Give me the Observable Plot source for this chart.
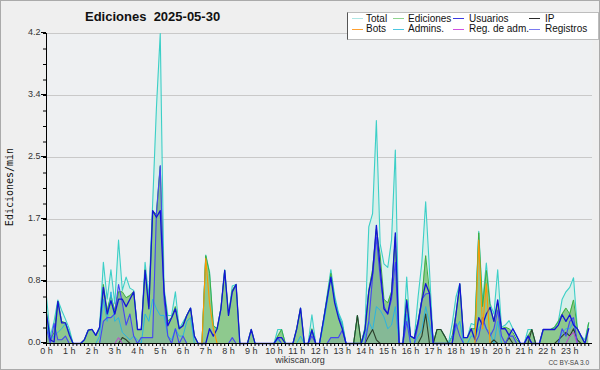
<!DOCTYPE html>
<html><head><meta charset="utf-8">
<script src="https://cdn.jsdelivr.net/npm/d3@7"></script>
<script src="https://cdn.jsdelivr.net/npm/@observablehq/plot@0.6"></script>
<style>
body{margin:0;background:#fff}
#c{position:relative;width:600px;height:370px;background:#efefef;overflow:hidden;font-family:"Liberation Sans",Arial,sans-serif}
#c svg{position:absolute;left:0;top:0}
.t{position:absolute;white-space:pre;}
</style></head><body><div id="c"></div><script>
// 10-minute slots (144 per day), values in edits/min
const total = [
 0.63,0.10,0.30,0.59,0.45,0.33, 0.20,0,0,0,0.05,0.18, 0.19,0.11,0.22,1.10,0.60,1.00,
 0.54,1.40,0.72,0.90,0.75,0.72, 0.19,0.19,1.10,0.63,1.90,3.20, 4.20,0.75,0.38,0.38,0.70,0.20,
 0.29,0.38,0.48,0.10,0,0, 1.20,0.97,0.24,0.20,0.47,1.00, 0.38,0.78,0.80,0,0,0,
 0.19,0,0,0,0,0, 0,0.19,0.19,0,0,0, 0.20,0.48,0,0,0.39,0,
 0,0.30,0.65,1.00,0.65,0.42, 0.30,0,0,0,0.38,0, 0.22,1.58,1.76,3.02,1.35,1.08,
 1.03,1.40,2.62,0,0,0.90, 0.10,0.07,0.63,1.10,1.92,1.00, 0,0.19,0.19,0.10,0,0.27,
 0.63,0.81,0.08,0.08,0.27,0.25, 1.52,0.55,1.09,0.54,0.40,1.00, 0.22,0.25,0.31,0.20,0.10,0,
 0,0.19,0.19,0,0,0.19, 0.19,0.19,0.22,0.30,0.60,0.70, 0.76,0.89,0.20,0.10,0.05,0.28];
const ediciones = [
 0.42,0.05,0.15,0.57,0.30,0.28, 0.15,0,0,0,0.05,0.18, 0.19,0.11,0.20,0.80,0.45,0.65,
 0.45,0.70,0.70,0.62,0.65,0.70, 0.19,0.19,1.00,0.50,1.80,1.75, 2.40,0.70,0.30,0.35,0.50,0.20,
 0.25,0.38,0.48,0.10,0,0, 1.19,0.95,0.24,0.20,0.47,0.99, 0.38,0.72,0.80,0,0,0,
 0.19,0,0,0,0,0, 0,0.10,0.19,0,0,0, 0.20,0.48,0,0,0.20,0,
 0,0.30,0.62,0.95,0.60,0.38, 0.25,0,0,0,0.38,0, 0.20,0.72,1.00,1.55,1.20,0.60,
 0.55,0.70,1.45,0,0,0.60, 0.10,0.07,0.30,0.60,1.19,0.70, 0,0.19,0.19,0.10,0,0.10,
 0.40,0.80,0.08,0.08,0.20,0.20, 1.50,0.50,0.99,0.50,0.30,0.55, 0.20,0.22,0.20,0.15,0.05,0,
 0,0.10,0.19,0,0,0.19, 0.19,0.19,0.22,0.30,0.40,0.48, 0.40,0.59,0.20,0.10,0,0.28];
const usuarios = [
 0.40,0.05,0.02,0.57,0.28,0.28, 0.12,0,0,0,0.05,0.18, 0.19,0.11,0.22,0.76,0.40,0.58,
 0.40,0.60,0.60,0.50,0.60,0.70, 0.19,0.19,0.99,0.47,1.80,1.71, 1.80,0.70,0.24,0.35,0.47,0.20,
 0.24,0.38,0.48,0.10,0,0, 0,0.20,0.10,0.20,0.47,0.99, 0.38,0.70,0.80,0,0,0,
 0.19,0,0,0,0,0, 0,0.08,0.08,0,0,0, 0.20,0.48,0,0,0.18,0,
 0,0.30,0.60,0.90,0.55,0.35, 0.20,0,0,0,0,0, 0.18,0.70,0.95,1.60,1.03,0.47,
 0.40,0.67,1.50,0,0,0.58, 0.10,0.07,0.29,0.58,0.81,0.68, 0,0,0,0,0,0,
 0.40,0.81,0.08,0.08,0.20,0.05, 0.35,0.25,0.40,0.49,0.30,0.59, 0.20,0.20,0.11,0.20,0.10,0,
 0,0.10,0,0,0,0.19, 0.19,0.19,0.19,0.25,0.39,0.30, 0.39,0.25,0.20,0.10,0,0.20];
const ip = [
 0,0,0,0,0,0, 0,0,0,0,0,0, 0,0,0,0,0,0,
 0,0,0.08,0.05,0,0, 0,0,0,0,0,0, 0,0,0,0,0,0,
 0,0,0,0,0,0, 0,0,0,0,0,0, 0,0,0,0,0,0,
 0,0,0,0,0,0, 0,0,0,0,0,0, 0,0,0,0,0,0,
 0,0,0,0,0,0, 0,0,0,0,0.38,0, 0,0.10,0.19,0.05,0,0,
 0,0,0,0,0,0, 0,0,0,0.10,0.40,0, 0,0.19,0.19,0.10,0,0,
 0,0,0,0,0,0, 0,0,0,0,0.05,0, 0,0,0.08,0,0,0,
 0,0,0.19,0,0,0, 0,0,0,0.05,0.10,0.15, 0.10,0.20,0.05,0,0,0];
const bots = [
 0,0,0,0,0,0, 0,0,0,0,0,0, 0,0,0,0,0,0,
 0,0,0,0,0,0, 0,0,0,0,0,0, 0,0,0,0,0,0,
 0,0,0,0,0,0, 1.15,0.55,0.20,0,0,0, 0,0,0,0,0,0,
 0,0,0,0,0,0, 0,0,0,0,0,0, 0,0,0,0,0,0,
 0,0,0,0,0,0, 0,0,0,0,0,0, 0,0,0,0,0,0,
 0,0,0,0,0,0, 0,0,0,0,0,0, 0,0,0,0,0,0,
 0,0,0,0,0,0, 1.40,0.20,0.81,0,0,0, 0,0,0,0,0,0,
 0,0,0,0,0,0, 0,0,0,0,0,0, 0,0,0,0,0,0];
const admins = [
 0.25,0.05,0.10,0.15,0.20,0.27, 0.15,0,0,0,0,0, 0,0,0.10,0.60,0.30,0.70,
 0.30,0.35,0.15,0.10,0.05,0.10, 0.05,0,0.40,0.30,0.60,0.47, 0.38,0.38,0.10,0.05,0.20,0.10,
 0.10,0.30,0.35,0,0,0, 0,0,0,0,0,0, 0,0,0,0,0,0,
 0,0,0,0,0,0, 0,0.05,0,0,0,0, 0,0.10,0,0,0.18,0,
 0,0.25,0.55,0.90,0.60,0.40, 0.25,0,0,0,0,0, 0.10,0.30,0.18,0.50,0.45,0.36,
 0.20,0.25,0.50,0,0,0.40, 0,0,0.10,0.18,0.50,0.27, 0,0,0,0,0,0.10,
 0.20,0.30,0,0,0.10,0.10, 0.20,0.30,0.20,0.15,0,0.30, 0,0,0,0,0,0,
 0,0,0,0,0,0, 0,0,0,0,0.15,0.20, 0.20,0.30,0,0,0,0];
const regAdm = [
 0,0,0,0,0,0, 0,0,0,0,0,0, 0,0,0,0,0,0,
 0,0.08,0,0,0,0, 0,0,0,0,0,0, 0,0,0,0,0,0,
 0,0,0,0,0,0, 0,0,0,0,0,0, 0,0,0,0,0,0,
 0,0,0,0,0,0, 0,0,0,0,0,0, 0,0,0,0,0,0,
 0,0,0,0,0,0, 0,0,0,0,0,0, 0,0,0,0,0,0,
 0,0,0,0,0,0, 0,0,0,0,0,0, 0,0,0,0,0,0,
 0,0,0,0,0,0, 0,0,0,0,0,0, 0,0,0,0,0,0,
 0,0,0,0,0,0, 0,0,0,0,0,0, 0.10,0.15,0,0,0,0];
const registros = [
 0.20,0,0.27,0.05,0.05,0.10, 0,0,0,0,0,0, 0,0,0,0.30,0.35,0.35,
 0.40,0.80,0.55,0.25,0.40,0.10, 0,0.08,0.08,0.08,0.08,1.78, 2.41,0.60,0.10,0,0.20,0,
 0.10,0,0,0,0,0, 0,0,0,0,0,0, 0,0.08,0,0,0,0,
 0,0,0,0,0,0, 0,0.08,0,0,0,0, 0,0,0,0,0.10,0,
 0,0,0,0.08,0.08,0.08, 0.18,0,0,0,0,0, 0,0.30,0.90,1.44,0.90,0.50,
 0.40,0.60,1.10,0,0,0.30, 0,0,0.25,0.60,0.67,0.68, 0,0,0,0,0,0,
 0.27,0.10,0,0,0,0, 0.10,0.35,0.20,0.10,0.20,0.45, 0.10,0,0.10,0.10,0,0,
 0,0.10,0,0,0,0, 0,0,0,0,0.20,0.10, 0.30,0.35,0,0,0,0];

const yTicks = [0, 0.84, 1.68, 2.52, 3.36, 4.2];
const yTickLabels = ["0.0", "0.8", "1.7", "2.5", "3.4", "4.2"];
const hours = [0,1,2,3,4,5,6,7,8,9,10,11,12,13,14,15,16,17,18,19,20,21,22,23];
const hourLabels = ["0 h","1 h","2 h","3 h","4 h","5 h","6 h","7 h","8 h","9 h","10 h","11 h",
  "12 h","13 h","14 h","15 h","16 h","17 h","18 h","19 h","20 h","21 h","22 h","23 h"];
const legendLabels = ["Total","Ediciones","Usuarios","IP","Bots","Admins.","Reg. de adm.","Registros"];
const titleText = "Ediciones  2025-05-30";
const yLabel = "Ediciones/min";

const rows = vals => vals.map((v, j) => ({h: j / 6, v}));
const xMinor = d3.range(144).map(j => j / 6);
const yMinor = d3.range(21).map(k => k * 0.21);

const lineOpts = (stroke, w) => ({x: "h", y: "v", stroke, strokeWidth: w});

const chart = Plot.plot({
  width: 600, height: 370,
  marginLeft: 46, marginRight: 8, marginTop: 33, marginBottom: 27,
  x: {domain: [0, 24], axis: null},
  y: {domain: [0, 4.2], axis: null},
  style: {background: "transparent", fontFamily: "Liberation Sans, Arial, sans-serif", fontSize: "9px", color: "black"},
  marks: [
    Plot.frame({fill: "#eef0f2", stroke: "none"}),
    Plot.ruleY(yTicks.slice(1), {stroke: "#c9c9c9"}),
    Plot.areaY(rows(total), {x: "h", y: "v", fill: "#d7efea"}),
    Plot.areaY(rows(ediciones), {x: "h", y: "v", fill: "#8ec98e"}),
    Plot.areaY(rows(registros), {x: "h", y: "v", fill: "#6a80b8", fillOpacity: 0.22}),
    Plot.lineY(rows(total), lineOpts("#3ccfc7", 1.1)),
    Plot.lineY(rows(ediciones), lineOpts("#3fae3f", 1)),
    Plot.lineY(rows(admins), lineOpts("#2ab4e2", 1)),
    Plot.lineY(rows(ip), lineOpts("#2c402c", 1.1)),
    Plot.lineY(rows(registros), lineOpts("#4646f2", 1.1)),
    Plot.lineY(rows(usuarios), lineOpts("#1414d6", 1.3)),
    Plot.lineY(rows(bots), lineOpts("#ff9800", 1.1)),
    Plot.lineY(rows(regAdm), lineOpts("#c23ed2", 1)),
    Plot.ruleY([0], {stroke: "black"}),
    Plot.ruleX([0], {stroke: "black"}),
    // minor ticks (10 min on x, 0.21 on y)
    Plot.ruleX(xMinor, {x: d => d, y1: 0, y2: 0, insetBottom: -3, stroke: "black"}),
    Plot.ruleY(yMinor, {y: d => d, x1: 0, x2: 0, insetLeft: -3, stroke: "black"}),
    Plot.axisX(hours, {tickSize: 0, tickPadding: 4, fill: "#333", label: null, tickFormat: h => hourLabels[hours.indexOf(h)]}),
    Plot.axisY(yTicks, {tickSize: 5, tickPadding: 1, dy: -1, fill: "#333", label: null, tickFormat: d => yTickLabels[yTicks.indexOf(d)]})
  ]
});

const c = document.getElementById("c");
c.appendChild(chart);

function addText(txt, css) {
  const d = document.createElement("div");
  d.className = "t";
  d.textContent = txt;
  Object.assign(d.style, css);
  c.appendChild(d);
  return d;
}

addText(titleText, {left: "85px", top: "10px", font: "bold 13px 'Liberation Sans', Arial, sans-serif", lineHeight: "13px", color: "#111"});
addText(yLabel, {left: "10px", top: "187px", font: "10px 'DejaVu Sans Mono', monospace", lineHeight: "10px", color: "#111",
  transform: "translate(-50%,-50%) rotate(-90deg)"});
addText("wikiscan.org", {left: "300px", top: "356px", font: "9px 'Liberation Sans', Arial, sans-serif", lineHeight: "9px", color: "#333", transform: "translateX(-50%)"});
addText("CC BY-SA 3.0", {right: "11px", top: "359px", font: "6.5px 'Liberation Sans', Arial, sans-serif", lineHeight: "7px", color: "#444"});

// legend
const box = document.createElement("div");
Object.assign(box.style, {position: "absolute", left: "347px", top: "12px", width: "250px", height: "26px",
  background: "#fff", border: "1px solid #bdbdbd", borderLeft: "1px solid #555"});
c.appendChild(box);
const legendColors = ["#aee6e4", "#8fd48f", "#3a3ae0", "#2a2a2a", "#ffa030", "#4cc6e0", "#d050e0", "#7a7af0"];
const sampleX = [352, 393, 453, 529];
const textX = [366, 408, 469, 545];
const rowTop = [13.5, 24.2];
const rowLine = [18, 29];
legendLabels.forEach((lab, i) => {
  const col = i % 4, row = Math.floor(i / 4);
  const s = document.createElement("div");
  Object.assign(s.style, {position: "absolute", left: sampleX[col] + "px", top: rowLine[row] + "px", width: "11px", height: "1px", background: legendColors[i]});
  c.appendChild(s);
  addText(lab, {left: textX[col] + "px", top: rowTop[row] + "px", font: "10px 'Liberation Sans', Arial, sans-serif", lineHeight: "10px", color: "#111"});
});

const frame = document.createElement("div");
Object.assign(frame.style, {position: "absolute", left: 0, top: 0, width: "600px", height: "370px", boxSizing: "border-box", border: "1px solid #aaa", pointerEvents: "none"});
c.appendChild(frame);
</script></body></html>
